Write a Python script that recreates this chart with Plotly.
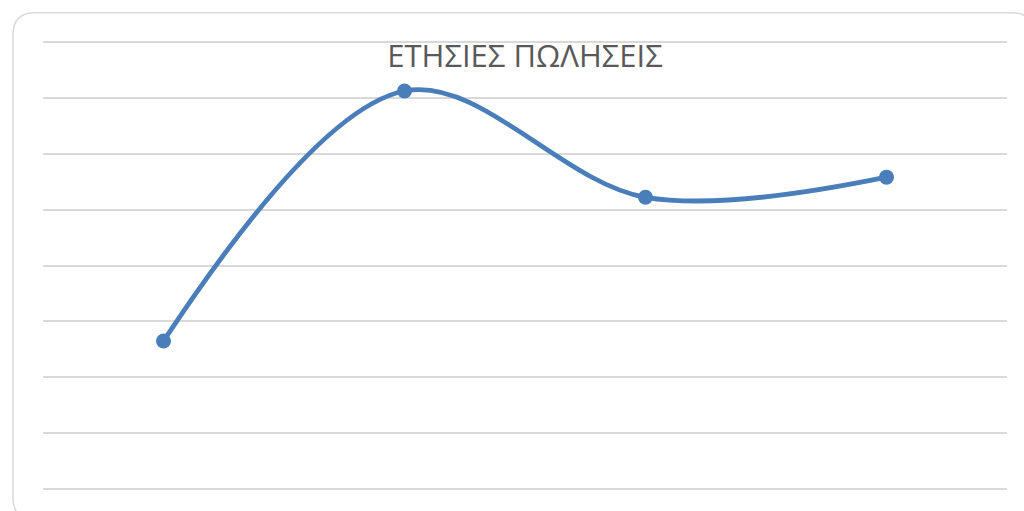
import plotly.graph_objects as go

categories = ["Q1", "Q2", "Q3", "Q4"]
sales = [2.65, 7.12, 5.22, 5.58]
y_ticks = [0, 1, 2, 3, 4, 5, 6, 7, 8]
title_text = "ΕΤΗΣΙΕΣ ΠΩΛΗΣΕΙΣ"

W, H = 1024, 511
pad = 0.05  # axis units of padding so edge gridlines are drawn
unit = 56.0
L, R = 43, 17
T = 41.5 - pad * unit
B = 21.5 - pad * unit
pw, ph = W - L - R, H - T - B

def px_x(x):
    return (x - L) / pw

def px_y(y):
    return (H - B - y) / ph

# rounded border (pixel -> paper)
x0, x1, y0, y1, r = 13, 1034, 12.5, 520, 22
path = (
    f"M {px_x(x0 + r)},{px_y(y0)} L {px_x(x1 - r)},{px_y(y0)} "
    f"Q {px_x(x1)},{px_y(y0)} {px_x(x1)},{px_y(y0 + r)} "
    f"L {px_x(x1)},{px_y(y1 - r)} Q {px_x(x1)},{px_y(y1)} {px_x(x1 - r)},{px_y(y1)} "
    f"L {px_x(x0 + r)},{px_y(y1)} Q {px_x(x0)},{px_y(y1)} {px_x(x0)},{px_y(y1 - r)} "
    f"L {px_x(x0)},{px_y(y0 + r)} Q {px_x(x0)},{px_y(y0)} {px_x(x0 + r)},{px_y(y0)} Z"
)

fig = go.Figure()
fig.add_trace(go.Scatter(
    x=categories, y=sales, mode="lines+markers",
    line=dict(color="#4a7ebb", width=4.8, shape="spline", smoothing=1),
    marker=dict(color="#4a7ebb", size=15),
    cliponaxis=False, showlegend=False, hoverinfo="skip",
))

fig.update_layout(
    width=W, height=H,
    margin=dict(l=L, r=R, t=T, b=B),
    paper_bgcolor="white", plot_bgcolor="white",
    title=dict(text=title_text, x=0.5, xref="paper", y=1 - 56 / H, yref="container",
               xanchor="center", yanchor="middle",
               font=dict(family="Open Sans", size=31, color="#595959")),
    xaxis=dict(type="category", range=[-0.5, 3.5], showgrid=False, showticklabels=False,
               zeroline=False, showline=False, ticks=""),
    yaxis=dict(range=[-pad, 8 + pad], tickvals=y_ticks, showgrid=True, gridcolor="#d9d9d9",
               gridwidth=2, showticklabels=False, zeroline=False, showline=False, ticks=""),
    shapes=[dict(type="path", path=path, xref="paper", yref="paper",
                 line=dict(color="#d9d9d9", width=1.5), layer="below")],
)

fig.write_html("out.html")
